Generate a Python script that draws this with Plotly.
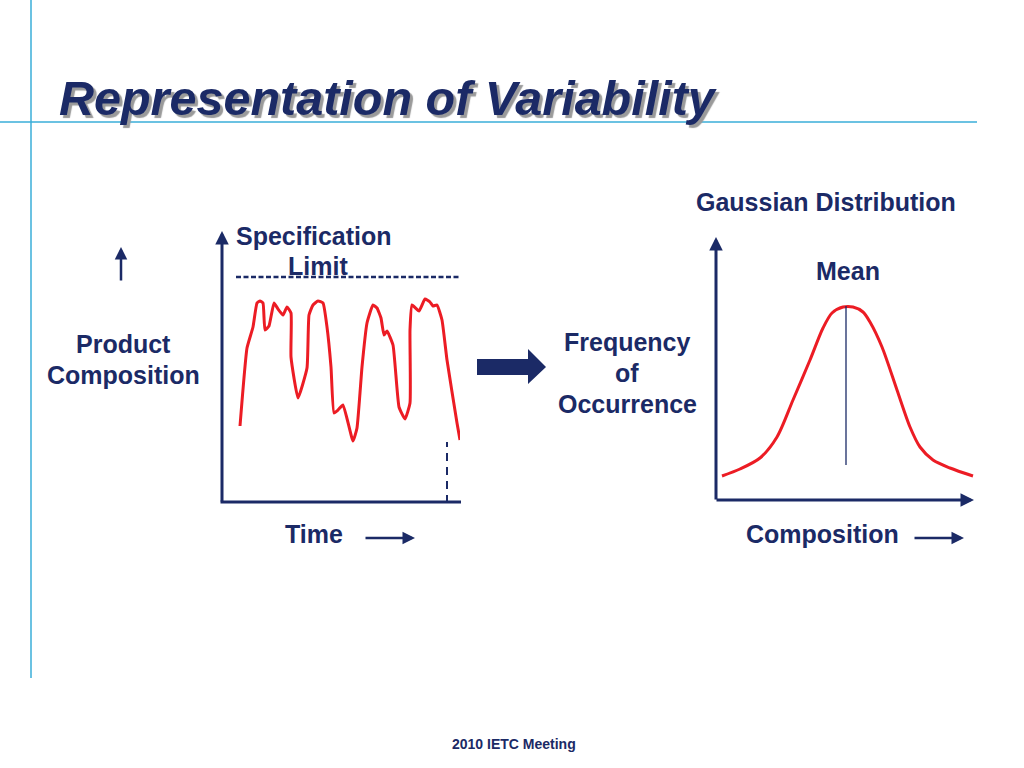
import plotly.graph_objects as go

W, H = 1024, 768
NAVY = "#1b2a66"
RED = "#ec1c24"
BLUE = "#3aaed8"
FONT = "Liberation Sans, Arial, sans-serif"

# ---- data ----
# Left chart: product composition over time (arbitrary units)
time_vals = [18, 25, 31, 35, 38, 41, 43, 47, 52, 56, 61, 65, 69, 69, 76, 85, 87, 91, 96, 101,
             105, 109, 112, 116, 121, 131, 135, 140, 145, 151, 155, 159, 162, 165, 171, 177,
             183, 188, 188, 190, 197, 203, 208, 211, 215, 220, 225, 235, 238]
composition_vals = [77, 155, 176, 200, 202, 200, 173, 177, 200, 194, 188, 196, 190, 146, 105, 135,
                    188, 198, 202, 200, 176, 136, 90, 93, 98, 62, 75, 136, 180, 198, 195, 185,
                    168, 172, 158, 96, 84, 100, 173, 198, 192, 204, 201, 197, 198, 183, 143, 80, 63]
spec_limit = 226
spec_time = [14, 238]
end_time = 225
end_dash = [0, 61]

# Right chart: Gaussian distribution (arbitrary units)
comp_vals = [6, 24, 44, 61, 77, 94, 107, 116, 127, 137, 147, 154, 166, 181, 194, 204, 217, 234, 257]
freq_vals = [24, 31, 42, 63, 100, 140, 172, 187, 193, 193, 188, 178, 153, 110, 73, 53, 40, 32, 24]
mean_comp = 130
mean_freq = [35, 194]


def px(x):
    return x / W


def py(y):
    return 1 - y / H


fig = go.Figure()

fig.add_trace(go.Scatter(x=time_vals, y=composition_vals, mode="lines",
                         line=dict(color=RED, width=3, shape="spline", smoothing=0.4),
                         xaxis="x", yaxis="y", cliponaxis=False, hoverinfo="skip"))
fig.add_trace(go.Scatter(x=spec_time, y=[spec_limit, spec_limit], mode="lines",
                         line=dict(color=NAVY, width=2.5, dash="5px,2.5px"),
                         xaxis="x", yaxis="y", cliponaxis=False, hoverinfo="skip"))
fig.add_trace(go.Scatter(x=[end_time, end_time], y=end_dash, mode="lines",
                         line=dict(color=NAVY, width=2, dash="8px,6px"),
                         xaxis="x", yaxis="y", cliponaxis=False, hoverinfo="skip"))

fig.add_trace(go.Scatter(x=comp_vals, y=freq_vals, mode="lines",
                         line=dict(color=RED, width=3, shape="spline", smoothing=0.8),
                         xaxis="x2", yaxis="y2", cliponaxis=False, hoverinfo="skip"))
fig.add_trace(go.Scatter(x=[mean_comp, mean_comp], y=mean_freq, mode="lines",
                         line=dict(color=NAVY, width=1.3),
                         xaxis="x2", yaxis="y2", cliponaxis=False, hoverinfo="skip"))

hidden = dict(visible=False, fixedrange=True)
fig.update_layout(
    width=W, height=H, margin=dict(l=0, r=0, t=0, b=0),
    paper_bgcolor="white", plot_bgcolor="rgba(0,0,0,0)", showlegend=False,
    xaxis=dict(domain=[px(222), px(460)], range=[0, 238], anchor="y", **hidden),
    yaxis=dict(domain=[py(503), py(232)], range=[0, 271], anchor="x", **hidden),
    xaxis2=dict(domain=[px(716), px(974)], range=[0, 258], anchor="y2", **hidden),
    yaxis2=dict(domain=[py(500), py(238)], range=[0, 262], anchor="x2", **hidden),
)

shapes = [
    # slide decoration lines
    dict(type="line", xref="paper", yref="paper", x0=px(0), x1=px(977), y0=py(122), y1=py(122),
         line=dict(color=BLUE, width=1.5)),
    dict(type="line", xref="paper", yref="paper", x0=px(31), x1=px(31), y0=py(0), y1=py(678),
         line=dict(color=BLUE, width=1.5)),
    # left x axis (no arrowhead)
    dict(type="line", xref="paper", yref="paper", x0=px(220.5), x1=px(461), y0=py(502), y1=py(502),
         line=dict(color=NAVY, width=3)),
    # block arrow
    dict(type="path", xref="paper", yref="paper",
         path=(f"M {px(477)} {py(359)} L {px(528)} {py(359)} L {px(528)} {py(349)} "
               f"L {px(546)} {py(367)} L {px(528)} {py(384)} L {px(528)} {py(375)} "
               f"L {px(477)} {py(375)} Z"),
         fillcolor=NAVY, line=dict(color=NAVY, width=0)),
]
fig.update_layout(shapes=shapes)

ann = []


def arrow(x_tip, y_tip, x_tail, y_tail, width=3, size=1.0):
    ann.append(dict(xref="paper", yref="paper", x=px(x_tip), y=py(y_tip),
                    ax=x_tail - x_tip, ay=y_tail - y_tip, axref="pixel", ayref="pixel",
                    text="", showarrow=True, arrowhead=2, arrowsize=size,
                    arrowwidth=width, arrowcolor=NAVY, standoff=0))


def text(s, x, y, size=25, color=NAVY, xanchor="center", shadow="none"):
    ann.append(dict(xref="paper", yref="paper", x=px(x), y=py(y), text=s, showarrow=False,
                    xanchor=xanchor, yanchor="middle",
                    font=dict(family=FONT, size=size, color=color, shadow=shadow)))


# axes with arrowheads
arrow(222, 231, 222, 503, width=3, size=0.9)
arrow(716, 237, 716, 501, width=3, size=0.9)
arrow(974, 500, 715, 500, width=3, size=0.9)
# small arrows
arrow(121, 247, 121, 282, width=2.5, size=1.0)
arrow(415, 538, 364, 538, width=2.5, size=1.0)
arrow(964, 538, 913, 538, width=2.5, size=1.0)

# title with shadow
text("<b><i>Representation of Variability</i></b>", 57, 98, size=48.5, color=NAVY,
     xanchor="left", shadow="3px 3px 1px #9a9a9a")

text("<b>Gaussian Distribution</b>", 826, 202)
text("<b>Mean</b>", 848, 271)
text("<b>Specification</b>", 314, 236)
text("<b>Limit</b>", 318, 266)
text("<b>Product</b>", 123, 344)
text("<b>Composition</b>", 123, 375)
text("<b>Frequency</b>", 627, 342)
text("<b>of</b>", 627, 373)
text("<b>Occurrence</b>", 627, 404)
text("<b>Time</b>", 314, 534)
text("<b>Composition</b>", 822, 534)
text("<b>2010 IETC Meeting</b>", 514, 744, size=14)

fig.update_layout(annotations=ann)
fig.write_html("out.html",
               config={"displayModeBar": False, "staticPlot": True},
               post_script="document.body.style.margin='0px';"
                           "document.body.style.overflow='hidden';")
